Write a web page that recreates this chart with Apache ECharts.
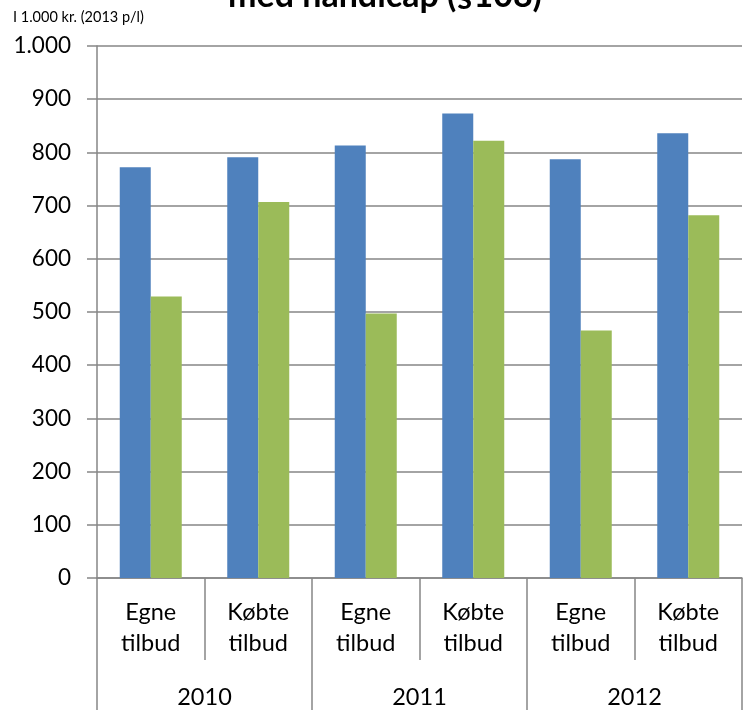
<!DOCTYPE html>
<html>
<head>
<meta charset="utf-8">
<script src="https://cdn.jsdelivr.net/npm/echarts@6/dist/echarts.min.js"></script>
<style>html,body{margin:0;padding:0;background:#fff}#c{width:743px;height:710px}</style>
</head>
<body>
<div id="c"></div>
<script>
const categories = ["Egne\ntilbud", "Købte\ntilbud", "Egne\ntilbud", "Købte\ntilbud", "Egne\ntilbud", "Købte\ntilbud"];
const years = ["2010", "2011", "2012"];
const seriesBlue = [772, 791, 813, 873, 787, 836];
const seriesGreen = [529, 707, 497, 822, 465, 682];
const titleText = "med handicap (§108)";
const unitText = "I 1.000 kr. (2013 p/l)";

const chart = echarts.init(document.getElementById('c'));
const font = 'Lato, "Open Sans", sans-serif';
chart.setOption({
  animation: false,
  textStyle: { fontFamily: font },
  title: {
    text: titleText,
    left: 380, top: -26, textAlign: 'center',
    textStyle: { fontFamily: font, fontSize: 34, fontWeight: 'bold', color: '#000' }
  },
  graphic: [{
    type: 'text', left: 13, top: 10,
    style: { text: unitText, fontFamily: font, fontSize: 14.5, fill: '#000' }
  }],
  grid: { left: 97, right: 1, top: 46, bottom: 132, containLabel: false },
  xAxis: [{
    type: 'category', data: categories, position: 'bottom',
    axisLine: { show: true, lineStyle: { color: '#868686', width: 1.5 } },
    axisTick: { show: true, interval: 0, length: 82, lineStyle: { color: '#868686', width: 1.5 } },
    axisLabel: { interval: 0, margin: 19, fontSize: 23.5, lineHeight: 31, color: '#000', fontFamily: font }
  }, {
    type: 'category', data: years, position: 'bottom',
    axisLine: { show: false },
    axisTick: { show: true, interval: 0, length: 134, lineStyle: { color: '#868686', width: 1.5 } },
    axisLabel: { interval: 0, margin: 107, fontSize: 23.5, color: '#000', fontFamily: font }
  }],
  yAxis: {
    type: 'value', min: 0, max: 1000, interval: 100,
    axisLine: { show: true, lineStyle: { color: '#868686', width: 1.5 } },
    axisTick: { show: true, length: 10, lineStyle: { color: '#868686', width: 1.5 } },
    splitLine: { show: true, lineStyle: { color: '#868686', width: 1.5 } },
    axisLabel: {
      margin: 26, fontSize: 22.5, color: '#000', fontFamily: font,
      formatter: v => v >= 1000 ? Math.floor(v / 1000) + '.' + String(v % 1000).padStart(3, '0') : String(v)
    }
  },
  series: [{
    type: 'bar', data: seriesBlue, xAxisIndex: 0, barWidth: 31, barGap: '0%',
    itemStyle: { color: '#4F81BD' }
  }, {
    type: 'bar', data: seriesGreen, xAxisIndex: 0, barWidth: 31, barGap: '0%',
    itemStyle: { color: '#9BBB59' }
  }]
});
</script>
</body>
</html>
